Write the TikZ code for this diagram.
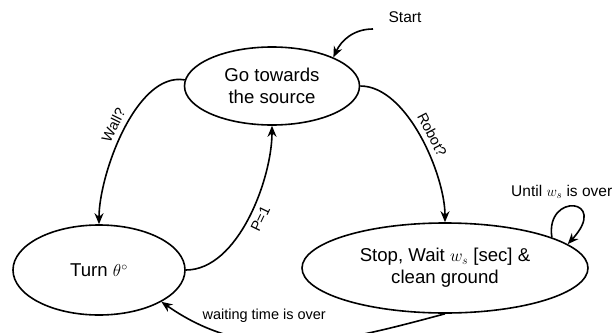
\documentclass[tikz,border=0pt]{standalone}
\usepackage{fontspec}
\setmainfont{Liberation Sans}
\usetikzlibrary{shapes.geometric,arrows.meta}
\begin{document}
\begin{tikzpicture}[x=1pt,y=1pt,line width=1.6pt,>={Stealth[length=11pt,width=9pt]}]
        \useasboundingbox (0,0) rectangle (613,-332);

        \begin{scope}[every node/.style={ellipse,draw,inner sep=0pt,align=center,font=\fontsize{18.6}{22}\selectfont}]
          \node[minimum width=175pt,minimum height=78pt] (go)   at (272,-86)  {Go towards\\the source};
          \node[minimum width=172pt,minimum height=90pt] (turn) at (99,-270)  {Turn $\theta^\circ$};
          \node[minimum width=286pt,minimum height=90pt] (stop) at (445,-268) {Stop, Wait $w_s$ [sec] \&\\clean ground};
        \end{scope}

        \node[font=\fontsize{15.5}{18}\selectfont] (start) at (405,-17) {Start};
        \coordinate (s0) at (373,-29);
        \node[font=\fontsize{15.5}{18}\selectfont,anchor=east,inner sep=0pt] (until) at (613,-192) {Until $w_s$ is over};

        \begin{scope}[every node/.style={font=\fontsize{14.5}{17}\selectfont}]
          \path[->] (s0)      edge[out=180,in=65] (go.25);
          \path[->] (go.176)  edge[out=170,in=90,looseness=.75] node[sloped,above=2pt,pos=.5] {Wall?} (turn.north);
          \path[->] (turn.east) edge[out=0,in=-90,looseness=.8] node[sloped,below=2pt,pos=.52] {P=1} (go.south);
          \path[->] (go.east) edge[out=0,in=90,looseness=.75] node[sloped,above=2pt,pos=.52] {Robot?} (stop.north);
          \path[->] (stop.south) edge[out=-165,in=-35] node[above=15pt,pos=.62] {waiting time is over} (turn.-27);
          \draw[->] (stop.16) .. controls (545,-192) and (610,-198) .. (stop.11);
        \end{scope}

      \end{tikzpicture}
\end{document}
